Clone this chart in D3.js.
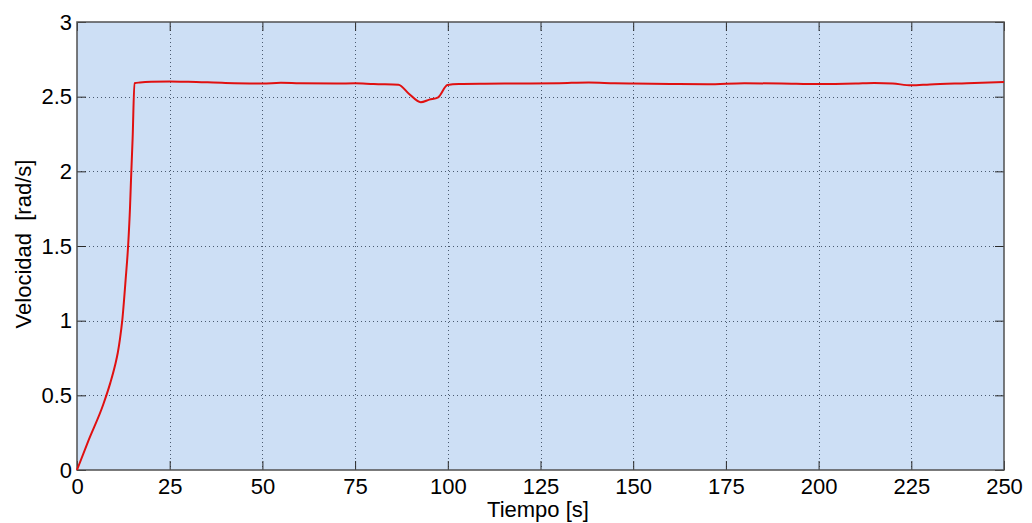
<!DOCTYPE html>
<html>
<head>
<meta charset="utf-8">
<script src="https://cdn.jsdelivr.net/npm/d3@7/dist/d3.min.js"></script>
<style>
  html, body { margin: 0; padding: 0; background: #ffffff; }
  svg { display: block; }
  text { font-family: "Liberation Sans", Arial, sans-serif; fill: #000; }
</style>
</head>
<body>
<svg id="chart" width="1032" height="523"></svg>
<script>
// Angular velocity response over time
const tiempo = [0, 3.06, 7.1, 9.0, 10.25, 11.0, 11.6, 12.2, 13.1, 13.8, 14.3, 14.56, 15.0, 15.5,
  17, 20, 25, 30, 40, 50, 55, 60, 70, 75, 80, 86.7, 89.5, 92.7, 95, 97.4, 99.9, 103, 110,
  120, 130, 138, 145, 150, 160, 170, 180, 190, 200, 210, 215, 220, 225, 230, 240, 250];
const velocidad = [0, 0.195, 0.44, 0.585, 0.70, 0.785, 0.88, 1.0, 1.27, 1.507, 1.76, 1.94, 2.22, 2.59,
  2.595, 2.6, 2.602, 2.6, 2.592, 2.588, 2.593, 2.59, 2.588, 2.59, 2.584, 2.58, 2.52, 2.463, 2.48, 2.496, 2.578, 2.585, 2.587,
  2.588, 2.59, 2.595, 2.59, 2.588, 2.585, 2.583, 2.59, 2.588, 2.584, 2.588, 2.592, 2.588, 2.576, 2.582, 2.59, 2.598];

const xTicks = [0, 25, 50, 75, 100, 125, 150, 175, 200, 225, 250];
const yTicks = [0, 0.5, 1, 1.5, 2, 2.5, 3];

const svg = d3.select("#chart");
const L = 77, R = 1004, T = 22, B = 470;

const x = d3.scaleLinear().domain([0, 250]).range([L, R]);
const y = d3.scaleLinear().domain([0, 3]).range([B, T]);

// plot area background
svg.append("rect")
  .attr("x", L).attr("y", T)
  .attr("width", R - L).attr("height", B - T)
  .attr("fill", "#cddff5");

// dotted grid
const grid = svg.append("g");
grid.selectAll(".gx").data(xTicks.slice(1, -1)).join("line")
  .attr("x1", d => Math.round(x(d)) + 0.5).attr("x2", d => Math.round(x(d)) + 0.5)
  .attr("y1", T).attr("y2", B)
  .attr("stroke", "#4a5a70").attr("stroke-width", 1).attr("stroke-dasharray", "1,3");
grid.selectAll(".gy").data(yTicks.slice(1, -1)).join("line")
  .attr("y1", d => Math.round(y(d)) + 0.5).attr("y2", d => Math.round(y(d)) + 0.5)
  .attr("x1", L).attr("x2", R)
  .attr("stroke", "#4a5a70").attr("stroke-width", 1).attr("stroke-dasharray", "1,3");

// axes with inward ticks
const xAxisB = d3.axisBottom(x).tickValues(xTicks).tickSize(-9).tickPadding(8).tickFormat(d3.format("d"));
const xAxisT = d3.axisTop(x).tickValues(xTicks).tickSize(-9).tickFormat("");
const yAxisL = d3.axisLeft(y).tickValues(yTicks).tickSize(-9).tickPadding(5).tickFormat(d => String(d));
const yAxisR = d3.axisRight(y).tickValues(yTicks).tickSize(-9).tickFormat("");

function styleAxis(g) {
  g.select(".domain").remove();
  g.selectAll(".tick line").attr("stroke", "#2a2a2a");
  g.selectAll("text").attr("font-size", 22).attr("font-family", "Liberation Sans, Arial, sans-serif");
}
svg.append("g").attr("transform", `translate(0,${B})`).call(xAxisB).call(styleAxis);
svg.append("g").attr("transform", `translate(0,${T})`).call(xAxisT).call(styleAxis);
svg.append("g").attr("transform", `translate(${L},0)`).call(yAxisL).call(styleAxis);
svg.append("g").attr("transform", `translate(${R},0)`).call(yAxisR).call(styleAxis);

// frame
svg.append("rect")
  .attr("x", L).attr("y", T)
  .attr("width", R - L).attr("height", B - T)
  .attr("fill", "none").attr("stroke", "#505050").attr("stroke-width", 1.5);

// response curve
const line = d3.line()
  .x((d, i) => x(tiempo[i]))
  .y(d => y(d))
  .curve(d3.curveMonotoneX);
svg.append("path")
  .datum(velocidad)
  .attr("d", line)
  .attr("fill", "none")
  .attr("stroke", "#e01010")
  .attr("stroke-width", 2);

// axis titles
svg.append("text")
  .attr("x", 538).attr("y", 517)
  .attr("text-anchor", "middle").attr("font-size", 22)
  .text("Tiempo [s]");
svg.append("text")
  .attr("transform", "translate(31,244) rotate(-90)")
  .attr("text-anchor", "middle").attr("font-size", 22)
  .attr("xml:space", "preserve")
  .text("Velocidad  [rad/s]");
</script>
</body>
</html>
